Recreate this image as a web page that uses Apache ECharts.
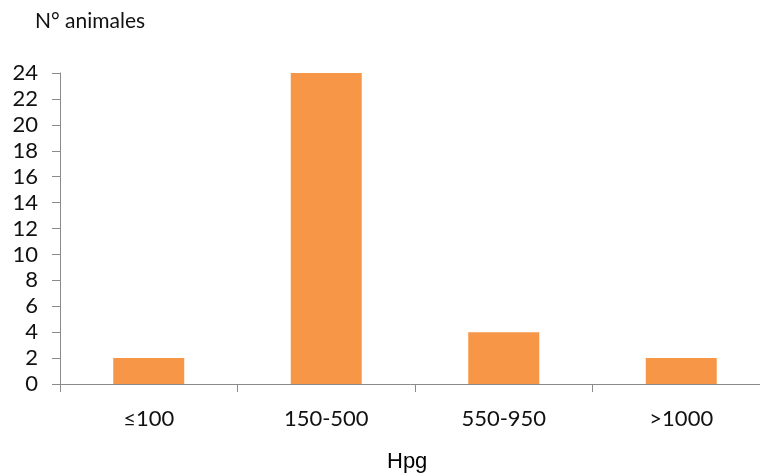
<!DOCTYPE html>
<html>
<head>
<meta charset="utf-8">
<script src="https://cdn.jsdelivr.net/npm/echarts@6/dist/echarts.min.js"></script>
<style>
  html, body { margin: 0; padding: 0; background: #fff; }
  #chart { width: 760px; height: 474px; }
</style>
</head>
<body>
<div id="chart"></div>
<script>
// Number of animals per egg-count class (huevos por gramo)
const categories = ['≤100', '150-500', '550-950', '>1000'];
const animals = [2, 24, 4, 2];
const yTicks = { min: 0, max: 24, interval: 2 };

const chart = echarts.init(document.getElementById('chart'));
chart.setOption({
  animation: false,
  title: [
    {
      text: 'N° animales',
      left: 30, top: 6,
      textStyle: { fontFamily: 'Lato', fontSize: 21, fontWeight: 'normal', color: '#111' }
    },
    {
      text: 'Hpg',
      left: 382, top: 446,
      textStyle: { fontFamily: 'Liberation Sans', fontSize: 22, fontWeight: 'normal', color: '#000' }
    }
  ],
  // plot area runs past the right edge of the canvas
  grid: { left: 60, width: 710, top: 73, bottom: 90, outerBoundsMode: 'none', containLabel: false },
  xAxis: {
    type: 'category',
    data: categories,
    axisLine: { lineStyle: { color: '#8a8a8a', width: 1 } },
    axisTick: { show: true, length: 8, lineStyle: { color: '#8a8a8a' } },
    axisLabel: { fontFamily: 'Lato', fontSize: 22, color: '#111', margin: 24 }
  },
  yAxis: {
    type: 'value',
    min: yTicks.min, max: yTicks.max, interval: yTicks.interval,
    axisLine: { show: true, lineStyle: { color: '#8a8a8a', width: 1 } },
    axisTick: { show: true, length: 8, lineStyle: { color: '#8a8a8a' } },
    splitLine: { show: false },
    axisLabel: { fontFamily: 'Lato', fontSize: 22, color: '#111', margin: 22 }
  },
  series: [{
    type: 'bar',
    data: animals,
    barWidth: '40%',
    itemStyle: { color: '#F79646' }
  }]
});
</script>
</body>
</html>
